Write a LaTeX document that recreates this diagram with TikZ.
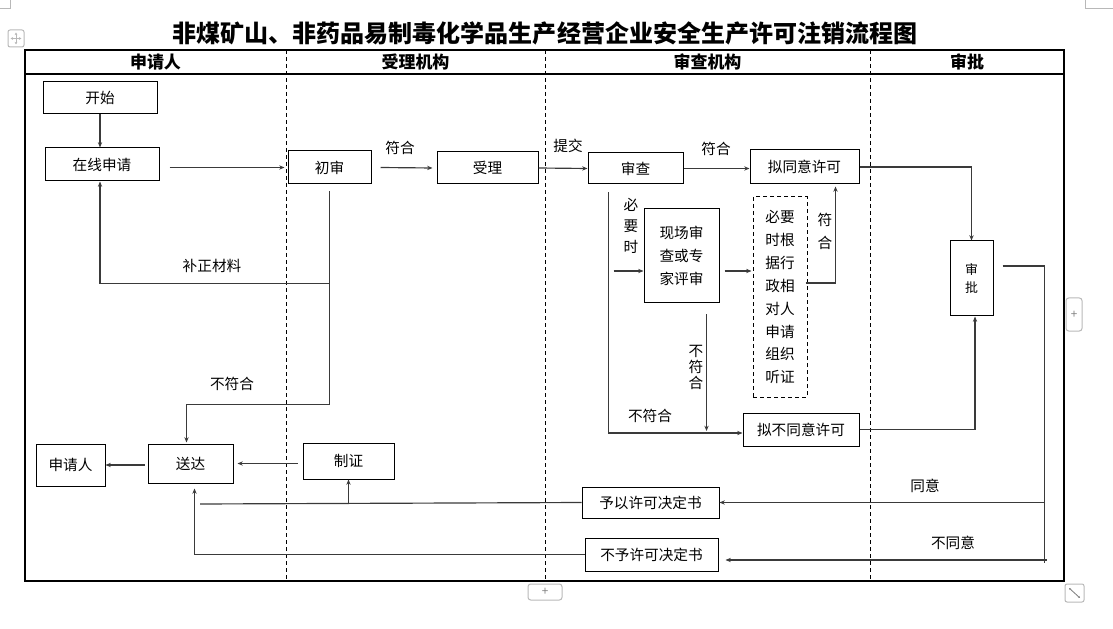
\documentclass[tikz,border=0pt]{standalone}
\usepackage{fontspec}
\setmainfont{Noto Sans CJK SC}
\usepackage{xcolor}
\usetikzlibrary{arrows.meta,calc}

\definecolor{linegray}{HTML}{3A3A3A}
\definecolor{uigray}{HTML}{B8B8B8}

\newcommand{\body}{\fontsize{12.5}{15}\selectfont}
\newcommand{\headfont}{\fontsize{14.5}{16}\selectfont\bfseries}
\newcommand{\titlefont}{\fontsize{20.5}{24}\selectfont\bfseries}

\tikzset{
  box/.style 2 args={draw, line width=0.3mm, inner sep=0pt, align=center,
    minimum width=#1*0.3mm, minimum height=#2*0.3mm},
  arr/.style={draw=linegray, line width=0.35mm, -{Stealth[length=1.6mm,width=1.3mm]}},
  link/.style={draw=linegray, line width=0.35mm},
  lbl/.style={inner sep=0pt, font=\body},
  vlbl/.style={inner sep=0pt, align=center}
}

\begin{document}
\begin{tikzpicture}[x=0.3mm, y=-0.3mm, font=\body]
    \useasboundingbox (0,0) rectangle (1113,629);

    % title and lanes
    \node[inner sep=0pt, font=\titlefont] (title) at (545,33) {非煤矿山、非药品易制毒化学品生产经营企业安全生产许可注销流程图};
    \draw[line width=0.4mm] (25,50) rectangle (1064,581);
    \draw[line width=0.4mm] (25,74) -- (1064,74);
    \foreach \x in {286,545,870} {
        \draw[line width=0.3mm, dash pattern=on 1.2mm off 0.9mm] (\x,50) -- (\x,581);
    }
    \node[inner sep=0pt, font=\headfont] (laneA) at (155.5,62) {申请人};
    \node[inner sep=0pt, font=\headfont] (laneB) at (415.5,62) {受理机构};
    \node[inner sep=0pt, font=\headfont] (laneC) at (707.5,62) {审查机构};
    \node[inner sep=0pt, font=\headfont] (laneD) at (967,62) {审批};

    % boxes
    \node[box={114}{32}] (start) at (100,98) {开始};
    \node[box={114}{33}] (online) at (102,164.5) {在线申请};
    \node[box={83}{33}] (prelim) at (329.5,167.5) {初审};
    \node[box={101}{32}] (accept) at (487.5,168) {受理};
    \node[box={95}{31}] (review) at (635.5,168.5) {审查};
    \node[box={109}{34}] (agree) at (804.5,167) {拟同意许可};
    \node[box={75}{94}, font=\fontsize{12.5}{19.6}\selectfont] (onsite) at (681.5,256) {现场审\\查或专\\家评审};
    \node[box={54}{200}, dashed, dash pattern=on 1.2mm off 0.9mm, font=\fontsize{12.5}{19.6}\selectfont] (hearing) at (780,297) {必要\\时根\\据行\\政相\\对人\\申请\\组织\\听证};
    \node[box={116}{33}] (disagree) at (801,429.5) {拟不同意许可};
    \node[box={43}{75}, font=\fontsize{11}{15.4}\selectfont] (approve) at (971.5,278.5) {审\\批};
    \node[box={69}{42}] (applicant) at (70.5,465) {申请人};
    \node[box={85}{39}] (deliver) at (190.5,463.5) {送达};
    \node[box={91}{36}] (certify) at (348.5,461) {制证};
    \node[box={137}{31}] (grant) at (650.5,502.5) {予以许可决定书};
    \node[box={133}{33}] (refuse) at (651.5,554.5) {不予许可决定书};

    % connectors, top row
    \draw[arr] (start.south) -- (start.south |- online.north);
    \draw[arr] ($(online.east)+(10,3)$) -- ($(prelim.west)+(-3,0)$);
    \draw[arr] ($(prelim.east)+(9,0)$) -- ($(accept.west)+(-4,0)$);
    \draw[arr] (accept.east) -- (review.west);
    \draw[arr] (review.east) -- (review.east -| agree.west);
    \draw[arr] (agree.east) -| (approve.north);
    \node[lbl] (okA) at (400,148) {符合};
    \node[lbl] (submit) at (568,146) {提交};
    \node[lbl] (okB) at (716,149) {符合};

    % connectors, acceptance lane
    \coordinate (fixA) at ($(prelim.south)+(0,99)$);
    \coordinate (rejA) at ($(prelim.south)+(0,220)$);
    \draw[link] ($(prelim.south)+(0,7)$) -- (rejA);
    \draw[arr] (fixA) -| ($(online.south)+(-2,0)$);
    \draw[arr] (rejA) -| ($(deliver.north)+(-4,-1)$);
    \node[lbl] (fixtxt) at (212,266) {补正材料};
    \node[lbl] (rejtxtA) at (232,384) {不符合};

    % connectors, review lane
    \coordinate (revL) at ($(review.south)+(-27,8)$);
    \draw[arr] (revL) |- ($(disagree.west)+(0,3.5)$);
    \draw[arr] ($(revL |- onsite.west)+(5,15)$) -- ($(onsite.west)+(0,15)$);
    \draw[arr] ($(onsite.east)+(5,15)$) -- ($(hearing.west |- onsite.east)+(-1,15)$);
    \draw[arr] ($(onsite.south)+(25,11)$) -- ($(onsite.south |- disagree.west)+(25,1.5)$);
    \draw[arr] ($(hearing.east)+(-2,-14)$) -| ($(agree.south)+(31,2)$);
    \draw[arr] (disagree.east) -| ($(approve.south)+(3.5,0)$);
    \node[vlbl, font=\fontsize{12.5}{18}\selectfont] (needtxt) at (631,226) {必\\要\\时};
    \node[vlbl, font=\fontsize{12.5}{13.7}\selectfont] (rejtxtB) at (696,367) {不\\符\\合};
    \node[vlbl, font=\fontsize{12.5}{19.6}\selectfont] (oktxtC) at (825,231) {符\\合};
    \node[lbl] (rejtxtC) at (650,416) {不符合};

    % connectors, approval lane
    \coordinate (bendT) at ($(approve.east)+(51,-12.5)$);
    \coordinate (bendB) at ($(bendT)+(0,297)$);
    \draw[link] ($(approve.east)+(9,-12.5)$) -- (bendT) -- (bendB);
    \draw[arr] (bendT |- grant.east) -- (grant.east);
    \draw[arr] ($(bendT |- refuse.east)+(2,5.5)$) -- ($(refuse.east)+(7,5.5)$);
    \node[lbl] (yestxt) at (925,486) {同意};
    \node[lbl] (notxt) at (953,543) {不同意};

    % connectors, bottom row
    \coordinate (gEnd) at ($(deliver.south)+(9.5,0)$);
    \draw[link] (grant.west) -- ($(grant.west -| gEnd)+(0,1.5)$);
    \draw[arr] ($(certify.south |- grant.west)+(0,1.5)$) -- (certify.south);
    \draw[arr] (refuse.west) -| ($(deliver.south)+(4,5)$);
    \draw[arr] ($(certify.west)+(-5,2.5)$) -- ($(deliver.east)+(4,0)$);
    \draw[arr] ($(deliver.west)+(-3,1.5)$) -- (applicant.east);

    % editor handles
    \draw[uigray, line width=0.3mm] (0,9) -- (10,9) -- (10,0);
    \draw[uigray, line width=0.3mm] (1085,0) -- (1085,9) -- (1113,9);
    \draw[uigray, line width=0.3mm, rounded corners=0.6mm] (8,30) rectangle (24,47);
    \draw[uigray, line width=0.3mm, <->, >={Stealth[length=0.8mm,width=0.8mm]}] (10.5,38.5) -- (21.5,38.5);
    \draw[uigray, line width=0.3mm, <->, >={Stealth[length=0.8mm,width=0.8mm]}] (16,32.5) -- (16,44.5);
    \draw[uigray, line width=0.3mm, rounded corners=0.8mm] (1066,298) rectangle (1082,331);
    \node[text=gray, inner sep=0pt, font=\fontsize{10}{10}\selectfont] (plusR) at (1074,314.5) {+};
    \draw[uigray, line width=0.3mm, rounded corners=0.8mm] (528,584) rectangle (562,600);
    \node[text=gray, inner sep=0pt, font=\fontsize{10}{10}\selectfont] (plusB) at (545,592) {+};
    \draw[uigray, line width=0.3mm, rounded corners=0.6mm] (1065,584) rectangle (1084,602);
    \draw[gray, line width=0.25mm, <->, >={Stealth[length=0.6mm,width=0.6mm]}] (1069,588) -- (1080,598);
\end{tikzpicture}
\end{document}
